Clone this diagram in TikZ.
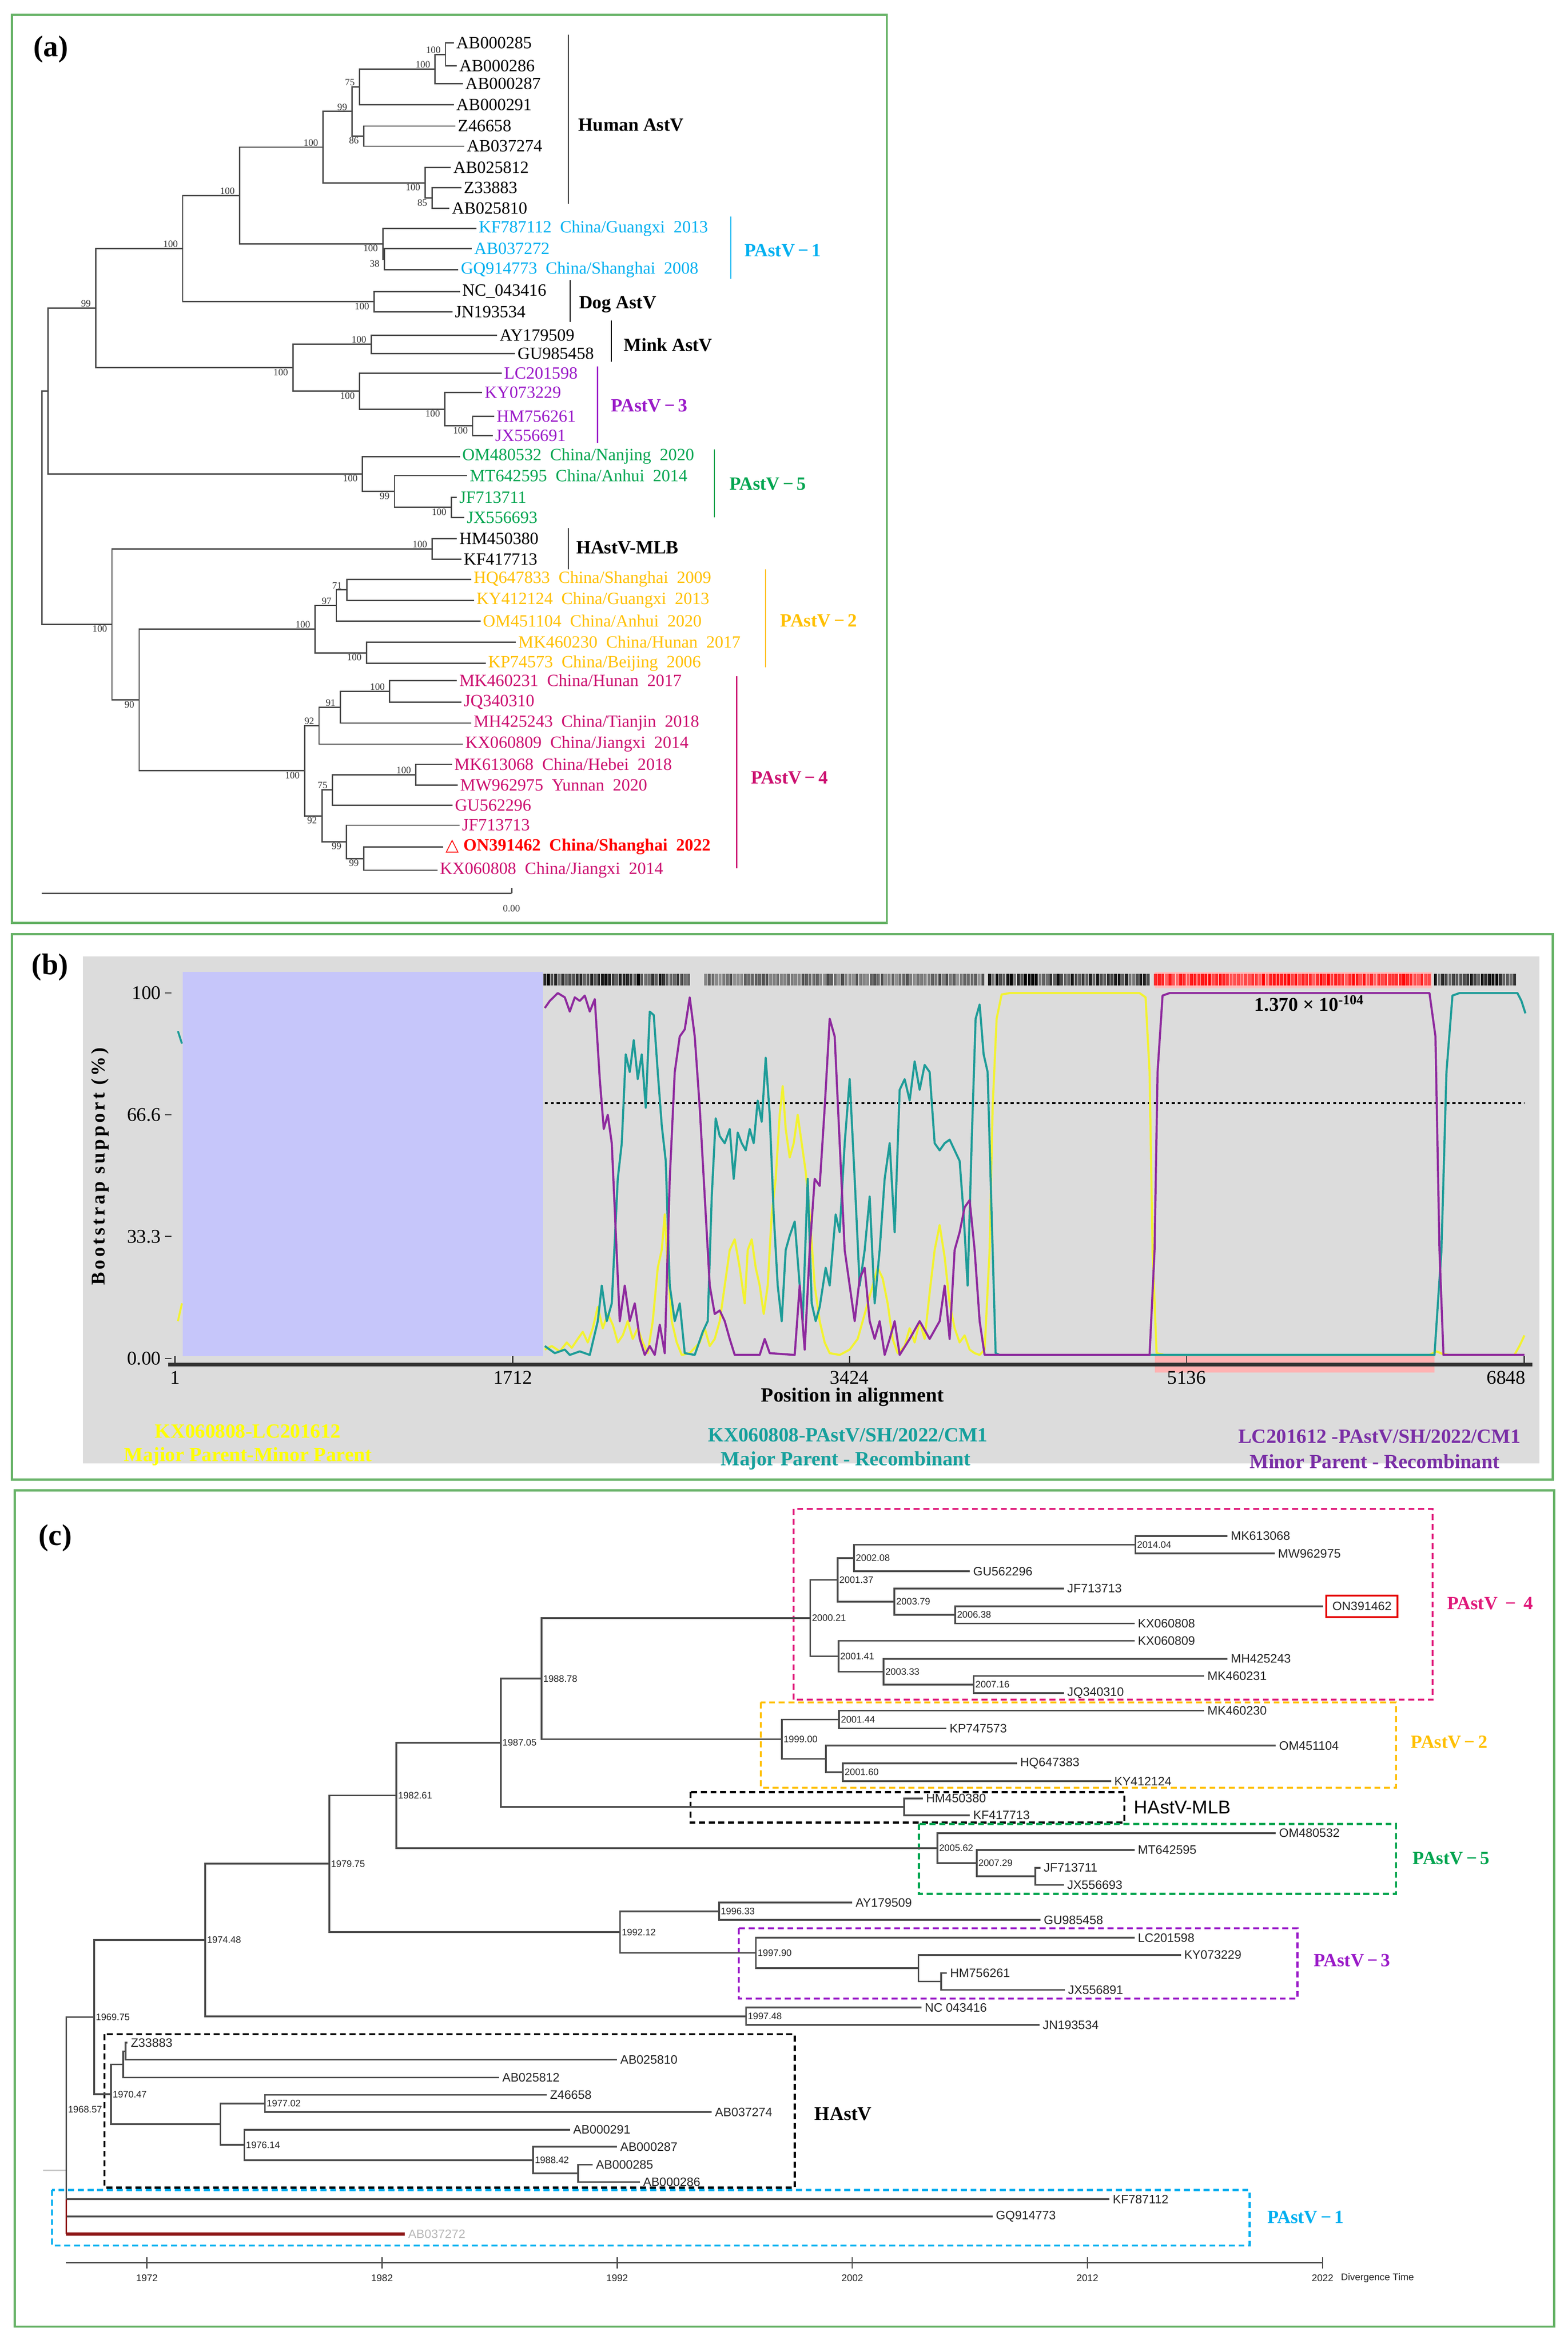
\documentclass[tikz,border=0pt]{standalone}
\usepackage{fontspec}
\setmainfont{Liberation Serif}
\setsansfont{Liberation Sans}
\newfontfamily\dvf{DejaVu Sans}
\usetikzlibrary{calc}
\definecolor{frameg}{HTML}{66B266}
\definecolor{pone}{HTML}{00B0F0}
\definecolor{pthree}{HTML}{9A1AC8}
\definecolor{pfive}{HTML}{00A550}
\definecolor{ptwo}{HTML}{FFC000}
\definecolor{pfour}{HTML}{CC1070}
\definecolor{pfourbox}{HTML}{E0197A}
\definecolor{tealc}{HTML}{1E9C98}
\definecolor{purc}{HTML}{8E2A9E}
\definecolor{yelc}{HTML}{F2F230}
\definecolor{lav}{HTML}{C6C6FA}
\definecolor{bgg}{HTML}{DCDCDC}
\definecolor{dred}{HTML}{8B1010}
\definecolor{legy}{HTML}{FFFF00}
\definecolor{legt}{HTML}{16A09C}
\definecolor{legp}{HTML}{7A2FA6}
\newcommand\fwm{\,−\,}
\newcommand\fsz[1]{\fontsize{#1}{#1}\selectfont}
\newcommand\tleaf[5]{\coordinate (#1) at (#2,#3); \node[#4] (#1-t) at (#1) {#5};}
\newcommand\inode[4]{\path let \p1=($(#3)!0.5!(#4)$) in (#2pt,\y1) coordinate (#1);}
\newcommand\clade[4][br]{\draw[#1] (#3) -| (#2) |- (#4);}
\newcommand\bsup[2]{\node[bs,anchor=south east] (#1-b) at ([xshift=-2.5]#1) {#2};}
\newcommand\bsdn[2]{\node[bs,anchor=north east] (#1-b) at ([xshift=-2.5]#1) {#2};}
\newcommand\yrl[2]{\node[yl] (#1-y) at (#1) {#2};}
\tikzset{
  frm/.style={draw=frameg, line width=1.5pt},
  br/.style={draw=black!72, line width=0.9pt},
  brc/.style={draw=black!70, line width=1.15pt},
  la/.style={font=\fsz{11.5}, anchor=west, inner sep=1.5pt},
  lc/.style={font=\sffamily\fsz{8.2}, anchor=west, inner sep=2pt, text=black!85},
  bs/.style={font=\fsz{6.5}, inner sep=0.6pt, text=black!80},
  yl/.style={font=\sffamily\fsz{6.3}, anchor=west, inner sep=1pt, text=black!85},
  cl/.style={font=\fsz{12.5}\bfseries, anchor=west, inner sep=0pt},
  plab/.style={font=\fsz{20}\bfseries, inner sep=0pt},
  brk/.style={line width=0.8pt},
  cbox/.style={line width=1.4pt, dash pattern=on 4pt off 2.5pt},
  tk/.style={font=\sffamily\fsz{6.5}, inner sep=0pt, text=black!85},
  axl/.style={font=\fsz{13}, inner sep=0pt},
  leg/.style={font=\fsz{13.5}\bfseries, inner sep=0pt},
}
\begin{document}
\begin{tikzpicture}[x=1pt,y=-1pt]
\useasboundingbox (0,0) rectangle (1050,1569);
\fill[white] (0,0) rectangle (1050,1569);

%%%%%%%%%%%%%%%%%%%% PANEL (a) %%%%%%%%%%%%%%%%%%%%
\draw[frm] (8,10) rectangle (594,618);
\node[plab] (lbla) at (34,33) {(a)};

\tleaf{a285}{304}{28.8}{la}{AB000285}
\tleaf{a286}{306}{44.1}{la}{AB000286}
\tleaf{a287}{310}{56}{la}{AB000287}
\tleaf{a291}{304}{70.1}{la}{AB000291}
\tleaf{aZ466}{305}{84.4}{la}{Z46658}
\tleaf{a37274}{311}{97.9}{la}{AB037274}
\tleaf{a25812}{302}{112.2}{la}{AB025812}
\tleaf{aZ338}{309}{125.7}{la}{Z33883}
\tleaf{a25810}{301}{139.6}{la}{AB025810}
\tleaf{aKF787}{319}{152.9}{la,text=pone}{KF787112~~China/Guangxi~~2013}
\tleaf{a37272}{316}{166.4}{la,text=pone}{AB037272}
\tleaf{aGQ}{307}{180.7}{la,text=pone}{GQ914773~~China/Shanghai~~2008}
\tleaf{aNC}{308}{195.2}{la}{NC\_043416}
\tleaf{aJN}{303}{208.9}{la}{JN193534}
\tleaf{aAY}{333}{224.4}{la}{AY179509}
\tleaf{aGU98}{345}{236.7}{la}{GU985458}
\tleaf{aLC}{336}{249.9}{la,text=pthree}{LC201598}
\tleaf{aKY07}{323}{262.8}{la,text=pthree}{KY073229}
\tleaf{aHM75}{331}{278.7}{la,text=pthree}{HM756261}
\tleaf{aJX691}{330}{291.6}{la,text=pthree}{JX556691}
\tleaf{aOM48}{308}{305.7}{la,text=pfive}{OM480532~~China/Nanjing~~2020}
\tleaf{aMT}{313}{318.5}{la,text=pfive}{MT642595~~China/Anhui~~2014}
\tleaf{aJF711}{306}{333}{la,text=pfive}{JF713711}
\tleaf{aJX693}{311}{346.5}{la,text=pfive}{JX556693}
\tleaf{aHM45}{306}{360.6}{la}{HM450380}
\tleaf{aKF41}{309}{374.5}{la}{KF417713}
\tleaf{aHQ}{315.6}{387.9}{la,text=ptwo}{HQ647833~~China/Shanghai~~2009}
\tleaf{aKY41}{317.5}{402}{la,text=ptwo}{KY412124~~China/Guangxi~~2013}
\tleaf{aOM45}{321.8}{415.9}{la,text=ptwo}{OM451104~~China/Anhui~~2020}
\tleaf{aMK230}{345.5}{430}{la,text=ptwo}{MK460230~~China/Hunan~~2017}
\tleaf{aKP}{325.3}{444.3}{la,text=ptwo}{KP74573~~China/Beijing~~2006}
\tleaf{aMK231}{306}{455.7}{la,text=pfour}{MK460231~~China/Hunan~~2017}
\tleaf{aJQ}{309}{470.2}{la,text=pfour}{JQ340310}
\tleaf{aMH}{315.6}{484.2}{la,text=pfour}{MH425243~~China/Tianjin~~2018}
\tleaf{aKX809}{310}{498.3}{la,text=pfour}{KX060809~~China/Jiangxi~~2014}
\tleaf{aMK613}{302.7}{511.8}{la,text=pfour}{MK613068~~China/Hebei~~2018}
\tleaf{aMW}{306.6}{525.7}{la,text=pfour}{MW962975~~Yunnan~~2020}
\tleaf{aGU56}{303}{539.2}{la,text=pfour}{GU562296}
\tleaf{aJF713}{307.8}{552.6}{la,text=pfour}{JF713713}
\tleaf{aON}{297}{567.1}{la,text=red,font=\fsz{11.5}\bfseries}{{\dvf\mdseries △}~ON391462~~China/Shanghai~~2022}
\tleaf{aKX808}{293}{582.7}{la,text=pfour}{KX060808~~China/Jiangxi~~2014}

\inode{A1}{298.4}{a285}{a286}
\inode{A2}{291.4}{A1}{a287}
\inode{A3}{240.9}{A2}{a291}
\inode{A4}{243.6}{aZ466}{a37274}
\inode{A5}{235.8}{A3}{A4}
\inode{A6b}{289.4}{aZ338}{a25810}
\inode{A6}{284.8}{a25812}{A6b}
\inode{A7}{216.4}{A5}{A6}
\inode{P1a}{257.5}{a37272}{aGQ}
\inode{P1}{256.4}{aKF787}{P1a}
\inode{A8}{160.5}{A7}{P1}
\inode{D}{250.6}{aNC}{aJN}
\inode{A9}{122.4}{A8}{D}
\inode{M}{248.6}{aAY}{aGU98}
\inode{P3c}{316.6}{aHM75}{aJX691}
\inode{P3b}{298}{aKY07}{P3c}
\inode{P3}{240.9}{aLC}{P3b}
\inode{A10}{196.2}{M}{P3}
\inode{A11}{64.1}{A9}{A10}
\inode{P5c}{302.3}{aJF711}{aJX693}
\inode{P5b}{264.2}{aMT}{P5c}
\inode{P5}{242.8}{aOM48}{P5b}
\inode{A12}{32.2}{A11}{P5}
\inode{MLB}{289.4}{aHM45}{aKF41}
\inode{P2a}{232.3}{aHQ}{aKY41}
\inode{P2b}{225.3}{P2a}{aOM45}
\inode{P2c}{245.5}{aMK230}{aKP}
\inode{P2}{211}{P2b}{P2c}
\inode{P4a}{261}{aMK231}{aJQ}
\inode{P4b}{228}{P4a}{aMH}
\inode{P4c}{213.7}{P4b}{aKX809}
\inode{P4d}{278.6}{aMK613}{aMW}
\inode{P4e}{222.6}{P4d}{aGU56}
\inode{P4f}{243.6}{aON}{aKX808}
\inode{P4g}{232}{aJF713}{P4f}
\inode{P4h}{215.6}{P4e}{P4g}
\inode{P4}{204}{P4c}{P4h}
\inode{C}{93.2}{P2}{P4}
\inode{B}{75}{MLB}{C}
\inode{R}{28}{A12}{B}

\clade{A1}{a285}{a286}
\clade{A2}{A1}{a287}
\clade{A3}{A2}{a291}
\clade{A4}{aZ466}{a37274}
\clade{A5}{A3}{A4}
\clade{A6b}{aZ338}{a25810}
\clade{A6}{a25812}{A6b}
\clade{A7}{A5}{A6}
\clade{P1a}{a37272}{aGQ}
\clade{P1}{aKF787}{P1a}
\clade{A8}{A7}{P1}
\clade{D}{aNC}{aJN}
\clade{A9}{A8}{D}
\clade{M}{aAY}{aGU98}
\clade{P3c}{aHM75}{aJX691}
\clade{P3b}{aKY07}{P3c}
\clade{P3}{aLC}{P3b}
\clade{A10}{M}{P3}
\clade{A11}{A9}{A10}
\clade{P5c}{aJF711}{aJX693}
\clade{P5b}{aMT}{P5c}
\clade{P5}{aOM48}{P5b}
\clade{A12}{A11}{P5}
\clade{MLB}{aHM45}{aKF41}
\clade{P2a}{aHQ}{aKY41}
\clade{P2b}{P2a}{aOM45}
\clade{P2c}{aMK230}{aKP}
\clade{P2}{P2b}{P2c}
\clade{P4a}{aMK231}{aJQ}
\clade{P4b}{P4a}{aMH}
\clade{P4c}{P4b}{aKX809}
\clade{P4d}{aMK613}{aMW}
\clade{P4e}{P4d}{aGU56}
\clade{P4f}{aON}{aKX808}
\clade{P4g}{aJF713}{P4f}
\clade{P4h}{P4e}{P4g}
\clade{P4}{P4c}{P4h}
\clade{C}{P2}{P4}
\clade{B}{MLB}{C}
\clade{R}{A12}{B}

\bsup{A1}{100} \bsup{A2}{100} \bsup{A3}{75} \bsdn{A4}{86} \bsup{A5}{99}
\bsdn{A6b}{85} \bsdn{A6}{100} \bsup{A7}{100} \bsdn{P1a}{38} \bsdn{P1}{100}
\bsup{A8}{100} \bsdn{D}{100} \bsup{A9}{100} \bsup{M}{100} \bsdn{P3c}{100}
\bsdn{P3b}{100} \bsdn{P3}{100} \bsdn{A10}{100} \bsup{A11}{99} \bsdn{P5c}{100}
\bsdn{P5b}{99} \bsdn{P5}{100} \bsup{MLB}{100} \bsup{P2a}{71} \bsup{P2b}{97}
\bsdn{P2c}{100} \bsup{P2}{100} \bsup{P4a}{100} \bsup{P4b}{91} \bsup{P4c}{92}
\bsup{P4d}{100} \bsup{P4e}{75} \bsdn{P4f}{99} \bsdn{P4g}{99} \bsdn{P4h}{92}
\bsdn{P4}{100} \bsdn{C}{90} \bsdn{B}{100}

% clade brackets (a)
\draw[brk,black] (380.7,23.2) -- (380.7,136.6);
\node[cl] (hum) at (387.3,83.8) {Human AstV};
\draw[brk,pone] (489.5,145) -- (489.5,186.7);
\node[cl,text=pone] (p1a) at (498.5,167.8) {PAstV\fwm1};
\draw[brk,black] (381.9,187.7) -- (381.9,215.5);
\node[cl] (dog) at (387.7,204) {Dog AstV};
\draw[brk,black] (409.5,214.5) -- (409.5,242.3);
\node[cl] (mink) at (417.6,231) {Mink AstV};
\draw[brk,pthree] (400.2,245.3) -- (400.2,296.5);
\node[cl,text=pthree] (p3a) at (409,271.5) {PAstV\fwm3};
\draw[brk,pfive] (478.6,300.9) -- (478.6,346.5);
\node[cl,text=pfive] (p5a) at (488.4,324) {PAstV\fwm5};
\draw[brk,black] (380.7,353.7) -- (380.7,381.3);
\node[cl] (mlba) at (385.8,366.8) {HAstV-MLB};
\draw[brk,ptwo] (512.8,381.3) -- (512.8,447);
\node[cl,text=ptwo] (p2a) at (522.5,415.5) {PAstV\fwm2};
\draw[brk,pfour] (493.4,452.8) -- (493.4,581.6);
\node[cl,text=pfour] (p4a) at (503,520.9) {PAstV\fwm4};

% scale bar (a)
\coordinate (sb0) at (28,598.2); \coordinate (sb1) at (342.7,598.2);
\draw[black!70, line width=0.9pt] (sb0) -- (sb1);
\draw[black!70, line width=0.9pt] (sb1) -- ++(0,-3.5);
\node[bs] (sbl) at (342.6,608.5) {0.00};

%%%%%%%%%%%%%%%%%%%% PANEL (b) %%%%%%%%%%%%%%%%%%%%
\draw[frm] (8,625.5) rectangle (1040,990.7);
\begin{scope}[shift={(0,622.6)}, xscale=0.66957, yscale=0.23827]
  \fill[bgg] (83,75) rectangle (1540,1500);
  \fill[lav] (183,118) rectangle (543,1198);
  \fill[red!25] (1155,118) rectangle (1432,165);
  \fill[red!30] (1155,1195) rectangle (1435,1245);
  \pgfmathsetseed{11}
  \foreach \xa/\xb/\bc/\bo in {545/692/black/1, 706/985/black/0.7, 990/1150/black/1, 1156/1430/red/1, 1436/1518/black/1}{
    \pgfmathsetmacro\xn{\xa+3.6}
    \foreach \xx in {\xa,\xn,...,\xb}{
      \pgfmathsetmacro\oo{\bo*(0.45+0.55*rnd)}
      \draw[\bc, opacity=\oo, line width=2pt] (\xx,124) -- (\xx,157);
    }
  }
  \draw[black, line width=1.3pt, dash pattern=on 2pt off 2pt] (545,487) -- (1525,487);
  \draw[tealc, line width=1.3pt] (178,285) -- (182,320);
  \draw[yelc, line width=1.3pt] (178,1100) -- (182,1050);
  \draw[yelc, line width=1.4pt, line join=round] plot coordinates {
    (545,1180) (552,1170) (560,1185) (567,1160) (572,1175) (578,1150) (583,1130) (588,1160) (593,1120) (598,1060) (603,1120) (608,1080) (613,1110) (618,1160) (623,1140) (628,1100) (633,1150) (638,1120) (643,1160) (648,1190) (653,1100) (658,950) (662,900) (665,800) (668,950) (672,1100) (677,1160) (682,1195) (690,1190) (700,1160) (705,1120) (710,1170) (715,1150) (720,1100) (725,1000) (730,900) (735,870) (740,950) (745,1050) (748,900) (752,870) (756,950) (760,1000) (764,1080) (768,1000) (772,800) (776,700) (780,520) (783,440) (786,560) (790,640) (794,600) (798,520) (802,600) (806,680) (810,800) (815,1000) (820,1100) (825,1160) (830,1190) (840,1195) (850,1180) (858,1150) (863,1100) (868,1050) (873,1000) (878,950) (883,980) (888,1050) (893,1150) (898,1190) (905,1170) (910,1120) (915,1160) (920,1100) (925,1150) (930,1020) (935,900) (940,830) (945,920) (950,1050) (955,1120) (960,1160) (965,1140) (970,1180) (975,1190) (980,1195) (985,1180) (990,900) (993,500) (997,250) (1002,182) (1010,178) (1140,178) (1146,190) (1150,400) (1153,900) (1157,1190) (1165,1195) (1430,1195) (1437,1185) (1443,1192) (1450,1195) (1515,1195) (1520,1170) (1525,1140)};
  \draw[tealc, line width=1.4pt, line join=round] plot coordinates {
    (545,1170) (555,1190) (565,1180) (570,1195) (580,1185) (590,1195) (598,1100) (602,1000) (607,1100) (612,1050) (618,700) (622,600) (626,350) (630,400) (634,310) (638,420) (642,350) (646,500) (650,230) (654,240) (658,400) (662,550) (666,650) (670,1000) (675,1100) (680,1050) (685,1190) (695,1195) (703,1130) (708,1100) (712,750) (716,530) (720,580) (725,600) (730,560) (734,700) (738,570) (742,600) (746,620) (750,560) (754,600) (758,480) (762,540) (766,360) (770,520) (774,800) (778,1000) (782,1100) (786,900) (790,860) (795,820) (800,1000) (803,1100) (808,700) (812,1050) (816,1100) (820,1060) (826,950) (830,1000) (836,800) (840,850) (845,600) (850,420) (855,700) (860,1000) (865,900) (870,750) (875,1050) (880,900) (885,700) (890,600) (895,850) (900,450) (905,420) (910,480) (915,370) (920,450) (925,380) (930,400) (935,600) (940,620) (945,600) (950,590) (955,620) (960,650) (964,800) (968,1000) (972,600) (976,250) (980,210) (984,350) (988,400) (992,800) (996,1190) (1000,1195) (1435,1195) (1442,900) (1447,400) (1453,185) (1460,178) (1518,178) (1522,200) (1526,235)};
  \draw[purc, line width=1.4pt, line join=round] plot coordinates {
    (545,220) (550,200) (558,178) (565,190) (570,230) (575,190) (580,200) (585,185) (590,230) (595,195) (600,420) (604,560) (608,520) (612,600) (616,850) (620,1100) (625,1000) (630,1100) (635,1050) (640,1150) (645,1195) (650,1170) (655,1195) (660,1110) (665,1190) (670,700) (675,400) (680,300) (685,280) (690,190) (695,300) (700,500) (705,750) (710,1000) (715,1080) (720,1070) (725,1100) (730,1150) (735,1195) (760,1195) (765,1150) (770,1190) (795,1195) (800,1000) (805,1180) (810,900) (815,700) (820,720) (825,500) (830,250) (835,300) (840,600) (845,900) (850,1000) (855,1100) (860,980) (865,950) (870,1100) (875,1150) (880,1100) (885,1195) (890,1150) (895,1100) (900,1195) (910,1150) (920,1100) (930,1150) (940,1100) (945,1000) (950,1150) (955,900) (960,850) (965,780) (970,760) (975,900) (980,1100) (985,1195) (1150,1195) (1155,900) (1158,400) (1163,185) (1170,178) (1430,178) (1436,300) (1440,900) (1444,1195) (1525,1195)};
\end{scope}
\node[plab] (lblb) at (33.5,647.6) {(b)};
% axes (b)
\coordinate (xa0) at (112.5,913.8); \coordinate (xa1) at (1026.5,913.8);
\draw[black!80, line width=2.4pt] (xa0) -- (xa1);
\foreach \tx/\tl in {117.2/1, 343.5/1712, 569/3424, 794.8/5136} {
  \draw[black!80, line width=0.8pt] (\tx,908) -- (\tx,913.8);
  \node[axl] (xt\tl) at (\tx,922.5) {\tl};
}
\draw[black!80, line width=0.8pt] (1021,908) -- (1021,913.8);
\node[axl, anchor=east] (xt6848) at (1022,922.5) {6848};
\foreach \ty/\tl in {665/100, 746.5/66.6, 828/33.3, 909.7/0.00} {
  \draw[black!80, line width=0.8pt] (110.5,\ty) -- (115,\ty);
  \node[axl, anchor=east] (yt\tl) at (108,\ty) {\tl};
}
\node[font=\fsz{13.5}\bfseries, inner sep=0pt] (xlab) at (571,935.4) {Position in alignment};
\node[font=\fsz{13}\bfseries\addfontfeature{LetterSpace=14}, rotate=90, inner sep=0pt] (ylab) at (67,781) {Bootstrap support (\%)};
\node[font=\fsz{13}\bfseries, inner sep=0pt] (pval) at (877,672) {1.370 × 10\textsuperscript{-104}};
\node[leg, text=legy] (ly1) at (166,958.6) {KX060808-LC201612};
\node[leg, text=legy] (ly2) at (166,975.3) {Majior Parent-Minor Parent};
\node[leg, text=legt] (lt1) at (568,961) {KX060808-PAstV/SH/2022/CM1};
\node[leg, text=legt] (lt2) at (566.5,978.3) {Major Parent - Recombinant};
\node[leg, text=legp] (lp1) at (924,962) {LC201612 -PAstV/SH/2022/CM1};
\node[leg, text=legp] (lp2) at (920.7,978.8) {Minor Parent - Recombinant};

%%%%%%%%%%%%%%%%%%%% PANEL (c) %%%%%%%%%%%%%%%%%%%%
\draw[frm] (10,998) rectangle (1041,1558);
\node[plab] (lblc) at (37,1030) {(c)};

% boxes
\draw[cbox, pfourbox] (531.6,1010.5) rectangle (959.6,1138.2);
\draw[cbox, ptwo] (509.6,1140.1) rectangle (935.1,1197.1);
\draw[cbox, black] (462.6,1200.1) rectangle (753.1,1220.5);
\draw[cbox, pfive] (615.5,1221.5) rectangle (935.1,1268.2);
\draw[cbox, pthree] (494.8,1291.3) rectangle (869,1338.4);
\draw[cbox, black] (70,1362.2) rectangle (532.3,1465);
\draw[cbox, pone] (34.8,1466.5) rectangle (837,1503.7);

\tleaf{cMK613}{822.3}{1028.6}{lc}{MK613068}
\tleaf{cMW}{853.9}{1040.3}{lc}{MW962975}
\tleaf{cGU56}{649.7}{1052.2}{lc}{GU562296}
\tleaf{cJF713}{712.7}{1063.7}{lc}{JF713713}
\coordinate (cON) at (886.1,1075.6);
\node[lc, draw=red!90!black, line width=1.3pt, inner xsep=4pt, inner ysep=4.3pt, xshift=1.7pt] (cON-t) at (cON) {ON391462};
\tleaf{cKX808}{760}{1087.1}{lc}{KX060808}
\tleaf{cKX809}{760}{1098.8}{lc}{KX060809}
\tleaf{cMH}{822.3}{1110.8}{lc}{MH425243}
\tleaf{cMK231}{806.6}{1122.3}{lc}{MK460231}
\tleaf{cJQ}{712.7}{1133.8}{lc}{JQ340310}
\tleaf{cMK230}{806.6}{1145.5}{lc}{MK460230}
\tleaf{cKP}{633.9}{1157.4}{lc}{KP747573}
\tleaf{cOM45}{854.6}{1168.9}{lc}{OM451104}
\tleaf{cHQ}{681.2}{1180.8}{lc}{HQ647383}
\tleaf{cKY41}{744.2}{1192.7}{lc}{KY412124}
\tleaf{cHM45}{618.1}{1204.3}{lc}{HM450380}
\tleaf{cKF41}{649.7}{1215.6}{lc}{KF417713}
\tleaf{cOM48}{854.6}{1227.5}{lc}{OM480532}
\tleaf{cMT}{760}{1238.8}{lc}{MT642595}
\tleaf{cJF711}{697}{1250.7}{lc}{JF713711}
\tleaf{cJX693}{712.7}{1262.2}{lc}{JX556693}
\tleaf{cAY}{570.9}{1274.1}{lc}{AY179509}
\tleaf{cGU98}{697}{1285.7}{lc}{GU985458}
\tleaf{cLC}{760}{1297.6}{lc}{LC201598}
\tleaf{cKY07}{791}{1309.1}{lc}{KY073229}
\tleaf{cHM75}{634.2}{1321.2}{lc}{HM756261}
\tleaf{cJX691}{713.2}{1332.5}{lc}{JX556891}
\tleaf{cNC}{617.3}{1344.4}{lc}{NC 043416}
\tleaf{cJN}{696.3}{1356}{lc}{JN193534}
\tleaf{cZ338}{85.5}{1367.9}{lc}{Z33883}
\tleaf{cAB810}{413.3}{1379.3}{lc}{AB025810}
\tleaf{cAB812}{334.3}{1391.2}{lc}{AB025812}
\tleaf{cZ466}{366.2}{1402.8}{lc}{Z46658}
\tleaf{cAB274}{476.8}{1414.3}{lc}{AB037274}
\tleaf{cAB291}{381.8}{1426.1}{lc}{AB000291}
\tleaf{cAB287}{413.3}{1437.6}{lc}{AB000287}
\tleaf{cAB285}{397}{1449.6}{lc}{AB000285}
\tleaf{cAB286}{428.6}{1461.2}{lc}{AB000286}
\tleaf{cKF787}{743.2}{1472.7}{lc}{KF787112}
\tleaf{cGQ}{664.9}{1484.3}{lc}{GQ914773}
\tleaf{cAB272}{271.2}{1496}{lc,text=black!28}{AB037272}

\inode{c2014}{760.5}{cMK613}{cMW}
\inode{c2002}{572.1}{c2014}{cGU56}
\inode{c2006}{639.9}{cON}{cKX808}
\inode{c2003a}{599.1}{cJF713}{c2006}
\inode{c2001a}{561}{c2002}{c2003a}
\inode{c2007a}{652.2}{cMK231}{cJQ}
\inode{c2003b}{591.9}{cMH}{c2007a}
\inode{c2001b}{561.6}{cKX809}{c2003b}
\inode{c2000}{542.7}{c2001a}{c2001b}
\inode{c2001c}{562.1}{cMK230}{cKP}
\inode{c2001d}{564.6}{cHQ}{cKY41}
\inode{cP2l}{553.3}{cOM45}{c2001d}
\inode{c1999}{523.65}{c2001c}{cP2l}
\inode{c1988b}{362.7}{c2000}{c1999}
\inode{cMLB}{605.7}{cHM45}{cKF41}
\inode{c1987}{335.4}{c1988b}{cMLB}
\inode{cJF}{693.5}{cJF711}{cJX693}
\inode{c2007b}{654.2}{cMT}{cJF}
\inode{c2005}{627.9}{cOM48}{c2007b}
\inode{c1982}{265.5}{c1987}{c2005}
\inode{c1996}{481.6}{cAY}{cGU98}
\inode{cHM}{630.4}{cHM75}{cJX691}
\inode{cKY}{615.2}{cKY07}{cHM}
\inode{c1997b}{506.3}{cLC}{cKY}
\inode{c1992}{415.3}{c1996}{c1997b}
\inode{c1979}{220.5}{c1982}{c1992}
\inode{c1997a}{499.7}{cNC}{cJN}
\inode{c1974}{137.5}{c1979}{c1997a}
\inode{cZ1}{84}{cZ338}{cAB810}
\inode{cZ}{82.5}{cZ1}{cAB812}
\inode{c1977}{177.5}{cZ466}{cAB274}
\inode{c285}{387.2}{cAB285}{cAB286}
\inode{c1988a}{357.1}{cAB287}{c285}
\inode{c1976}{163.6}{cAB291}{c1988a}
\inode{cH2}{147.6}{c1977}{c1976}
\inode{c1970}{74.3}{cZ}{cH2}
\inode{c1969}{63.0}{c1974}{c1970}
\coordinate (croot) at (44.4,1453.3);
\coordinate (cstub) at (29,1453.3);

\clade[brc]{c2014}{cMK613}{cMW}
\clade[brc]{c2002}{c2014}{cGU56}
\clade[brc]{c2006}{cON}{cKX808}
\clade[brc]{c2003a}{cJF713}{c2006}
\clade[brc]{c2001a}{c2002}{c2003a}
\clade[brc]{c2007a}{cMK231}{cJQ}
\clade[brc]{c2003b}{cMH}{c2007a}
\clade[brc]{c2001b}{cKX809}{c2003b}
\clade[brc]{c2000}{c2001a}{c2001b}
\clade[brc]{c2001c}{cMK230}{cKP}
\clade[brc]{c2001d}{cHQ}{cKY41}
\clade[brc]{cP2l}{cOM45}{c2001d}
\clade[brc]{c1999}{c2001c}{cP2l}
\clade[brc]{c1988b}{c2000}{c1999}
\clade[brc]{cMLB}{cHM45}{cKF41}
\clade[brc]{c1987}{c1988b}{cMLB}
\clade[brc]{cJF}{cJF711}{cJX693}
\clade[brc]{c2007b}{cMT}{cJF}
\clade[brc]{c2005}{cOM48}{c2007b}
\clade[brc]{c1982}{c1987}{c2005}
\clade[brc]{c1996}{cAY}{cGU98}
\clade[brc]{cHM}{cHM75}{cJX691}
\clade[brc]{cKY}{cKY07}{cHM}
\clade[brc]{c1997b}{cLC}{cKY}
\clade[brc]{c1992}{c1996}{c1997b}
\clade[brc]{c1979}{c1982}{c1992}
\clade[brc]{c1997a}{cNC}{cJN}
\clade[brc]{c1974}{c1979}{c1997a}
\clade[brc]{cZ1}{cZ338}{cAB810}
\clade[brc]{cZ}{cZ1}{cAB812}
\clade[brc]{c1977}{cZ466}{cAB274}
\clade[brc]{c285}{cAB285}{cAB286}
\clade[brc]{c1988a}{cAB287}{c285}
\clade[brc]{c1976}{cAB291}{c1988a}
\clade[brc]{cH2}{c1977}{c1976}
\clade[brc]{c1970}{cZ}{cH2}
\clade[brc]{c1969}{c1974}{c1970}
\draw[black!22, line width=1pt] (cstub) -- (croot);
\draw[brc] (c1969) -| (croot) |- (cKF787);
\draw[brc] (croot |- cGQ) -- (cGQ);
\draw[dred, line width=1.1pt] (croot |- cKF787) -- (croot |- cAB272);
\draw[dred, line width=2.4pt] (croot |- cAB272) -- (cAB272);

\yrl{c2014}{2014.04} \yrl{c2002}{2002.08} \yrl{c2006}{2006.38} \yrl{c2003a}{2003.79}
\yrl{c2001a}{2001.37} \yrl{c2007a}{2007.16} \yrl{c2003b}{2003.33} \yrl{c2001b}{2001.41}
\yrl{c2000}{2000.21} \yrl{c2001c}{2001.44} \yrl{c2001d}{2001.60} \yrl{c1999}{1999.00}
\yrl{c1988b}{1988.78} \yrl{c1987}{1987.05} \yrl{c2007b}{2007.29} \yrl{c2005}{2005.62}
\yrl{c1982}{1982.61} \yrl{c1996}{1996.33} \yrl{c1997b}{1997.90} \yrl{c1992}{1992.12}
\yrl{c1979}{1979.75} \yrl{c1997a}{1997.48} \yrl{c1974}{1974.48} \yrl{c1970}{1970.47}
\yrl{c1977}{1977.02} \yrl{c1988a}{1988.42} \yrl{c1976}{1976.14} \yrl{c1969}{1969.75}
\node[yl] (croot-y) at (44.4,1412.5) {1968.57};

% clade labels (c)
\node[font=\fsz{12.5}\bfseries, text=pfourbox, inner sep=0pt] (p4c) at (998.2,1073.6) {PAstV \,−\, 4};
\node[font=\fsz{12.5}\bfseries, text=ptwo, inner sep=0pt] (p2c) at (970.7,1166.5) {PAstV\fwm2};
\node[font=\sffamily\fsz{12.5}, anchor=west, inner sep=0pt] (mlbc) at (759.5,1210.2) {HAstV-MLB};
\node[font=\fsz{12.5}\bfseries, text=pfive, inner sep=0pt] (p5c) at (972,1244.4) {PAstV\fwm5};
\node[font=\fsz{12.5}\bfseries, text=pthree, inner sep=0pt] (p3c) at (905.6,1312.8) {PAstV\fwm3};
\node[font=\fsz{13}\bfseries, inner sep=0pt] (hac) at (564.8,1415.5) {HAstV};
\node[font=\fsz{12.5}\bfseries, text=pone, inner sep=0pt] (p1c) at (874.5,1484.8) {PAstV\fwm1};

% time axis (c)
\coordinate (tax0) at (44.2,1515.2); \coordinate (tax1) at (885.8,1515.2);
\draw[black!70, line width=1pt] (tax0) -- (tax1);
\foreach \yr in {1972,1982,1992,2002,2012,2022} {
  \pgfmathsetmacro\tx{98.4+(\yr-1972)*15.75}
  \draw[black!70, line width=0.7pt] (\tx,1511.5) -- (\tx,1519);
  \node[tk] (tk\yr) at (\tx,1525.5) {\yr};
}
\node[tk, anchor=west] (dtime) at (898,1525.5) {Divergence Time};
\end{tikzpicture}
\end{document}
